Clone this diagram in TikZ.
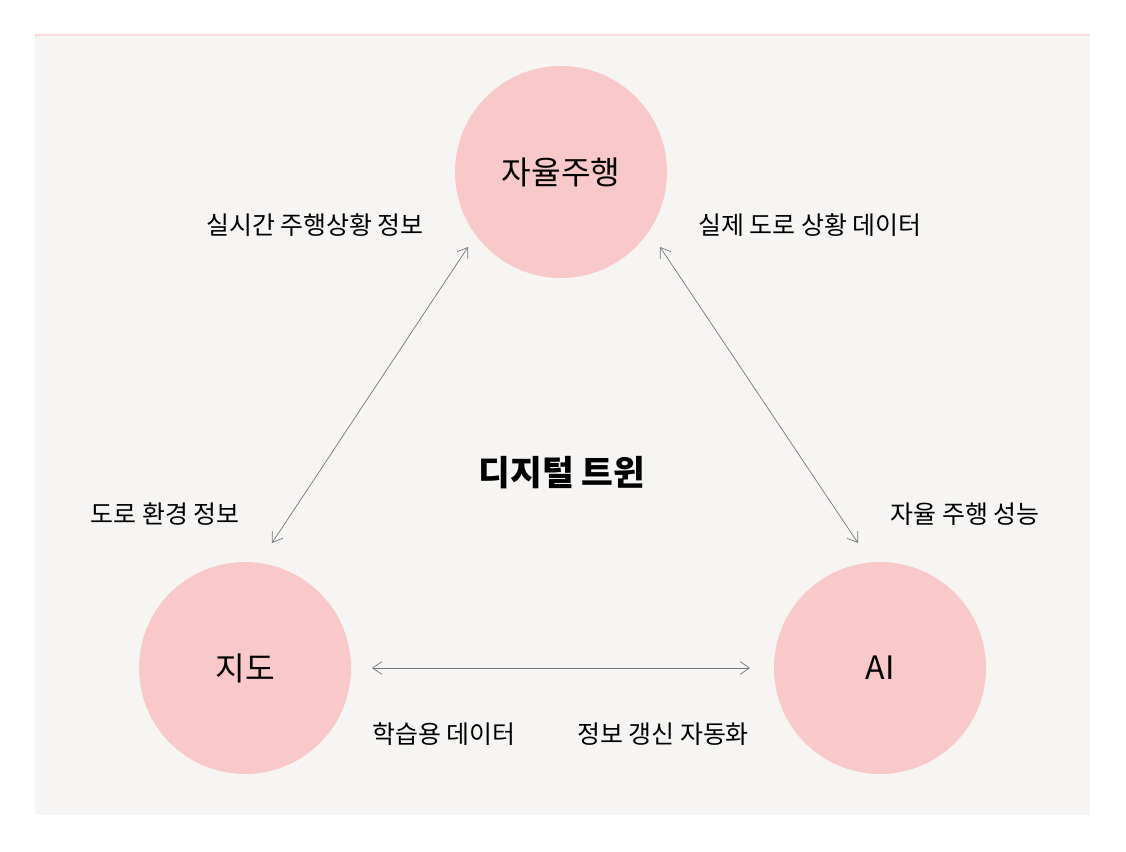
\documentclass[tikz,border=0pt]{standalone}
\usepackage{fontspec}
\setmainfont{Noto Sans CJK KR}
\usetikzlibrary{arrows.meta}
\definecolor{panelbg}{HTML}{F6F5F3}
\definecolor{topline}{HTML}{FADADA}
\definecolor{bubble}{HTML}{F9C8C9}
\definecolor{linkgray}{HTML}{777777}
\tikzset{
  bubble/.style={circle, fill=bubble, minimum size=212*0.03cm, inner sep=0pt, font=\fontsize{27.5}{32}\selectfont},
  caption/.style={font=\fontsize{21.3}{25}\selectfont},
  link/.style={{Straight Barb[length=8pt,width=11pt]}-{Straight Barb[length=8pt,width=11pt]}, linkgray, line width=0.6pt}
}
\begin{document}
\begin{tikzpicture}[x=0.03cm,y=-0.03cm]
	\useasboundingbox (0,0) rectangle (1126,852);
	\fill[white] (0,0) rectangle (1126,852);
	\fill[panelbg] (35,35) rectangle (1090,815);
	\draw[topline, line width=1pt] (35,35) -- (1090,35);
	% circles
	\node[bubble] (drive) at (561,172) {자율주행};
	\node[bubble] (map) at (245,668) {지도};
	\node[bubble] (ai) at (880,668) {AI};
	\node[font=\bfseries\fontsize{29.5}{34}\selectfont] (twin) at (562,473) {디지털 트윈};
	% links
	\coordinate (mapTop) at (272,543);
	\coordinate (driveL) at (468,247);
	\coordinate (driveR) at (660,247);
	\coordinate (aiTop) at (858,543);
	\coordinate (mapR) at (372,668);
	\coordinate (aiL) at (750,668);
	\draw[link] (mapTop) -- (driveL);
	\draw[link] (driveR) -- (aiTop);
	\draw[link] (mapR) -- (aiL);
	% captions
	\node[caption] (c1) at (315,225) {실시간 주행상황 정보};
	\node[caption] (c2) at (810,225) {실제 도로 상황 데이터};
	\node[caption] (c3) at (165,514) {도로 환경 정보};
	\node[caption] (c4) at (965,514) {자율 주행 성능};
	\node[caption] (c5) at (444,734) {학습용 데이터};
	\node[caption] (c6) at (663,734) {정보 갱신 자동화};
\end{tikzpicture}
\end{document}
